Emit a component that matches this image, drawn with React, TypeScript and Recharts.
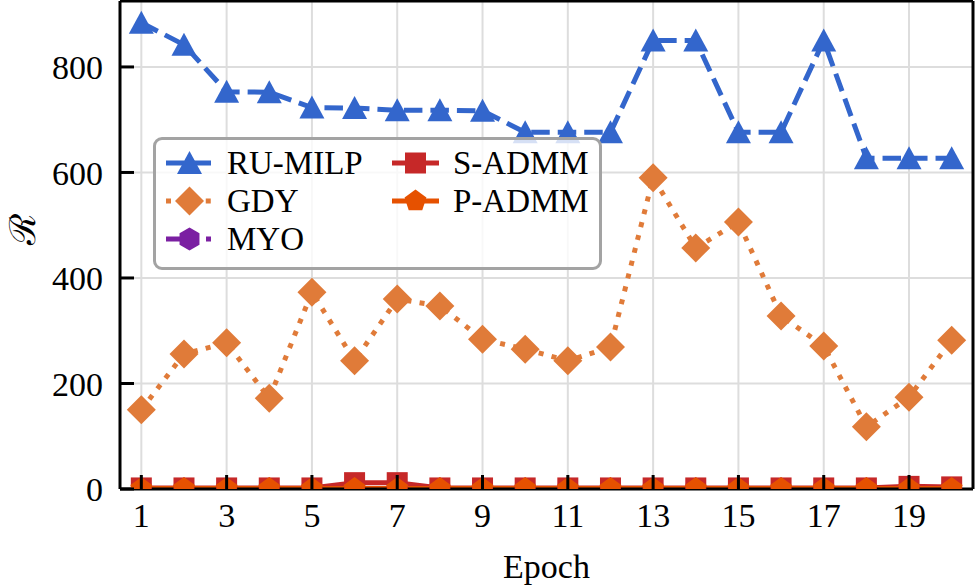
import React from "react";
import { LineChart, Line, XAxis, YAxis, CartesianGrid, ReferenceLine } from "recharts";

const epochs = [1, 2, 3, 4, 5, 6, 7, 8, 9, 10, 11, 12, 13, 14, 15, 16, 17, 18, 19, 20];
const ruMilp = [884, 842, 753, 752, 723, 722, 718, 718, 717, 676, 676, 676, 850, 850, 676, 676, 850, 627, 627, 627];
const gdy = [150, 256, 277, 172, 373, 243, 360, 347, 284, 265, 243, 269, 590, 457, 506, 328, 271, 118, 174, 282];
const myo = [0, 0, 0, 0, 0, 0, 0, 0, 0, 0, 0, 0, 0, 0, 0, 0, 0, 0, 0, 0];
const sAdmm = [2, 2, 2, 2, 2, 12, 12, 2, 2, 2, 2, 2, 2, 2, 2, 2, 2, 2, 5, 4];
const pAdmm = [1, 1, 1, 1, 1, 1, 1, 1, 1, 1, 1, 1, 1, 1, 1, 1, 1, 1, 1, 1];
const xTicks = [1, 3, 5, 7, 9, 11, 13, 15, 17, 19];
const yTicks = [0, 200, 400, 600, 800];

const data = epochs.map((e, i) => ({
  epoch: e,
  ru: ruMilp[i],
  gdy: gdy[i],
  myo: myo[i],
  s: sAdmm[i],
  p: pAdmm[i],
}));

const FONT = "Liberation Serif";

type ShapeKind = "triangle" | "diamond" | "square" | "pentagon" | "hexagon";

// marker shapes, shared by the plot and the legend
const marker = (kind: ShapeKind, cx: number, cy: number, color: string, key?: string) => {
  if (kind === "triangle") {
    return <polygon key={key} points={`${cx},${cy - 12} ${cx - 12.5},${cy + 11} ${cx + 12.5},${cy + 11}`} fill={color} />;
  }
  if (kind === "diamond") {
    return <polygon key={key} points={`${cx},${cy - 14.5} ${cx + 14.5},${cy} ${cx},${cy + 14.5} ${cx - 14.5},${cy}`} fill={color} />;
  }
  if (kind === "square") {
    return <rect key={key} x={cx - 10.5} y={cy - 10.5} width={21} height={21} fill={color} />;
  }
  const n = kind === "pentagon" ? 5 : 6;
  const r = 11.5;
  const pts = [];
  for (let k = 0; k < n; k++) {
    const a = -Math.PI / 2 + (k * 2 * Math.PI) / n;
    pts.push(`${cx + r * Math.cos(a)},${cy + r * Math.sin(a)}`);
  }
  return <polygon key={key} points={pts.join(" ")} fill={color} />;
};

const series = [
  { key: "ru", name: "RU-MILP", color: "#3366CC", shape: "triangle" as ShapeKind, dash: "18.5 8" },
  { key: "gdy", name: "GDY", color: "#E07B39", shape: "diamond" as ShapeKind, dash: "5 8.25" },
  { key: "myo", name: "MYO", color: "#7B1FA2", shape: "hexagon" as ShapeKind, dash: "32 8 5 8" },
  { key: "s", name: "S-ADMM", color: "#C62828", shape: "square" as ShapeKind, dash: undefined },
  { key: "p", name: "P-ADMM", color: "#E65100", shape: "pentagon" as ShapeKind, dash: undefined },
];

const XTick = (props: any) => {
  const { x, y, payload } = props;
  return (
    <g>
      <line x1={x} y1={y} x2={x} y2={y - 14} stroke="#000" strokeWidth={3} />
      <text x={x} y={y + 14} dy="0.71em" textAnchor="middle" fill="#000" fontFamily={FONT} fontSize={34}>
        {payload.value}
      </text>
    </g>
  );
};

const YTick = (props: any) => {
  const { x, y, payload } = props;
  return (
    <g>
      <line x1={x} y1={y} x2={x + 14} y2={y} stroke="#000" strokeWidth={3} />
      <text x={x - 17} y={y} dy="0.355em" textAnchor="end" fill="#000" fontFamily={FONT} fontSize={34}>
        {payload.value}
      </text>
    </g>
  );
};

const LegendRow = ({ s }: { s: (typeof series)[number] }) => (
  <div style={{ display: "flex", alignItems: "center", height: 38 }}>
    <svg width={60} height={38} style={{ flex: "none" }}>
      <line x1={6} y1={19} x2={53} y2={19} stroke={s.color} strokeWidth={5} strokeDasharray={s.dash} />
      {marker(s.shape, 29.5, 19, s.color)}
    </svg>
    <span style={{ marginLeft: 7, fontSize: 33, fontFamily: FONT, color: "#000", lineHeight: "38px", whiteSpace: "nowrap" }}>{s.name}</span>
  </div>
);

export default function App() {
  return (
    <div style={{ position: "absolute", left: 0, top: 0, width: 975, height: 588, fontFamily: FONT }}>
      <LineChart width={975} height={588} data={data} margin={{ top: 1, right: 2, bottom: 0, left: 0 }}>
        <CartesianGrid stroke="#dddddd" strokeWidth={2} />
        <XAxis
          dataKey="epoch"
          type="number"
          domain={[0.5, 20.5]}
          ticks={xTicks}
          height={99}
          tickSize={0}
          tickMargin={0}
          tick={<XTick />}
          axisLine={{ stroke: "#000", strokeWidth: 3 }}
          label={{ value: "Epoch", position: "insideBottom", offset: 10, fill: "#000", fontFamily: FONT, fontSize: 34 }}
        />
        <YAxis
          type="number"
          domain={[0, 925]}
          allowDataOverflow
          ticks={yTicks}
          width={120}
          tickSize={0}
          tickMargin={0}
          tick={<YTick />}
          axisLine={{ stroke: "#000", strokeWidth: 3 }}
          label={{ value: "ℛ", angle: -90, position: "insideLeft", offset: 22, fill: "#000", fontFamily: FONT, fontSize: 36 }}
        />
        <ReferenceLine y={925} stroke="#000" strokeWidth={3} />
        <ReferenceLine x={20.5} stroke="#000" strokeWidth={3} />
        {series.map((s) => (
          <Line
            key={s.key}
            dataKey={s.key}
            name={s.name}
            type="linear"
            stroke={s.color}
            strokeWidth={5}
            strokeDasharray={s.dash}
            dot={(p: any) => marker(s.shape, p.cx, p.cy, s.color, `${s.key}-${p.index}`)}
            activeDot={false}
            isAnimationActive={false}
          />
        ))}
      </LineChart>
      <div
        style={{
          position: "absolute",
          left: 153,
          top: 137,
          width: 443,
          height: 127,
          border: "3px solid #a3a3a3",
          borderRadius: 9,
          background: "rgba(255,255,255,0.8)",
          boxSizing: "content-box",
        }}
      >
        <div style={{ position: "absolute", left: 4, top: 4 }}>
          <LegendRow s={series[0]} />
          <LegendRow s={series[1]} />
          <LegendRow s={series[2]} />
        </div>
        <div style={{ position: "absolute", left: 230, top: 4 }}>
          <LegendRow s={series[3]} />
          <LegendRow s={series[4]} />
        </div>
      </div>
    </div>
  );
}
